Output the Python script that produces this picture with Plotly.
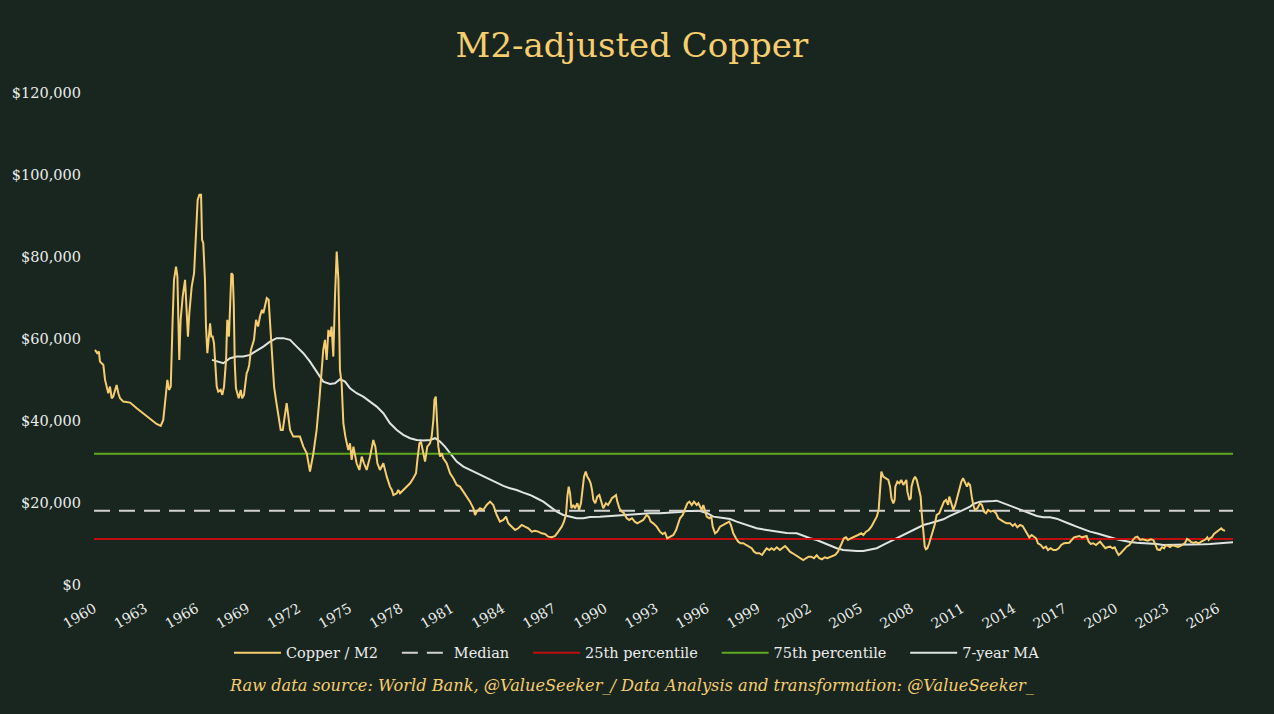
import plotly.graph_objects as go

# ---------------- data ----------------
copper_year = [
    1960.06, 1960.19, 1960.29, 1960.35, 1960.45, 1960.55, 1960.65, 1960.75, 1960.84, 1960.94,
    1961.04, 1961.13, 1961.33, 1961.43, 1961.53, 1961.72, 1962.12, 1962.51, 1962.90, 1963.29,
    1963.68, 1963.92, 1964.07, 1964.23, 1964.31, 1964.41, 1964.51, 1964.62, 1964.70, 1964.82,
    1964.90, 1964.96, 1965.01, 1965.09, 1965.21, 1965.35, 1965.45, 1965.52, 1965.60, 1965.74,
    1965.88, 1965.95, 1966.03, 1966.09, 1966.19, 1966.29, 1966.35, 1966.42, 1966.52, 1966.58,
    1966.66, 1966.72, 1966.82, 1966.89, 1966.97, 1967.05, 1967.13, 1967.21, 1967.30, 1967.44,
    1967.54, 1967.64, 1967.76, 1967.83, 1967.93, 1967.99, 1968.07, 1968.15, 1968.21, 1968.27,
    1968.34, 1968.42, 1968.50, 1968.62, 1968.70, 1968.81, 1968.89, 1968.97, 1969.05, 1969.12,
    1969.22, 1969.32, 1969.40, 1969.52, 1969.64, 1969.75, 1969.87, 1969.95, 1970.03, 1970.15,
    1970.26, 1970.34, 1970.42, 1970.50, 1970.58, 1970.69, 1970.77, 1970.87, 1970.97, 1971.09,
    1971.32, 1971.52, 1971.71, 1972.10, 1972.30, 1972.50, 1972.69, 1972.89, 1973.08, 1973.24,
    1973.38, 1973.47, 1973.57, 1973.67, 1973.77, 1973.87, 1973.96, 1974.06, 1974.16, 1974.26,
    1974.36, 1974.45, 1974.55, 1974.65, 1974.77, 1974.94, 1975.04, 1975.14, 1975.24, 1975.43,
    1975.59, 1975.73, 1975.86, 1976.02, 1976.22, 1976.41, 1976.53, 1976.65, 1976.80, 1977.00,
    1977.20, 1977.39, 1977.50, 1977.59, 1977.79, 1977.88, 1977.98, 1978.17, 1978.37, 1978.57,
    1978.76, 1978.92, 1979.00, 1979.12, 1979.21, 1979.31, 1979.45, 1979.58, 1979.74, 1979.84,
    1979.94, 1980.00, 1980.08, 1980.15, 1980.23, 1980.33, 1980.43, 1980.52, 1980.72, 1980.92,
    1981.11, 1981.31, 1981.50, 1981.70, 1981.90, 1982.09, 1982.29, 1982.39, 1982.49, 1982.68,
    1982.87, 1983.07, 1983.27, 1983.46, 1983.66, 1983.85, 1984.05, 1984.21, 1984.34, 1984.54,
    1984.74, 1984.93, 1985.13, 1985.32, 1985.52, 1985.72, 1985.91, 1986.10, 1986.30, 1986.50,
    1986.69, 1986.89, 1987.09, 1987.28, 1987.48, 1987.61, 1987.73, 1987.81, 1987.89, 1987.97,
    1988.05, 1988.16, 1988.26, 1988.40, 1988.50, 1988.61, 1988.71, 1988.79, 1988.89, 1988.98,
    1989.10, 1989.18, 1989.26, 1989.34, 1989.45, 1989.57, 1989.69, 1989.81, 1989.92, 1990.08,
    1990.20, 1990.32, 1990.43, 1990.55, 1990.67, 1990.75, 1990.87, 1991.01, 1991.14, 1991.30,
    1991.45, 1991.61, 1991.77, 1991.92, 1992.08, 1992.27, 1992.47, 1992.59, 1992.71, 1992.86,
    1993.06, 1993.25, 1993.41, 1993.55, 1993.68, 1993.84, 1994.04, 1994.20, 1994.33, 1994.43,
    1994.59, 1994.72, 1994.86, 1994.98, 1995.12, 1995.25, 1995.41, 1995.51, 1995.61, 1995.71,
    1995.80, 1995.90, 1996.00, 1996.15, 1996.27, 1996.35, 1996.49, 1996.62, 1996.78, 1996.97,
    1997.17, 1997.32, 1997.42, 1997.56, 1997.72, 1997.85, 1997.99, 1998.15, 1998.31, 1998.46,
    1998.64, 1998.78, 1998.93, 1999.09, 1999.25, 1999.38, 1999.52, 1999.68, 1999.81, 1999.95,
    2000.11, 2000.30, 2000.46, 2000.60, 2000.73, 2000.89, 2001.05, 2001.21, 2001.36, 2001.52,
    2001.67, 2001.83, 2001.99, 2002.14, 2002.30, 2002.46, 2002.61, 2002.77, 2002.93, 2003.08,
    2003.24, 2003.40, 2003.55, 2003.71, 2003.83, 2003.95, 2004.06, 2004.18, 2004.30, 2004.46,
    2004.61, 2004.73, 2004.89, 2005.08, 2005.20, 2005.36, 2005.52, 2005.67, 2005.83, 2005.99,
    2006.10, 2006.18, 2006.26, 2006.37, 2006.53, 2006.67, 2006.77, 2006.85, 2006.96, 2007.04,
    2007.08, 2007.20, 2007.32, 2007.43, 2007.55, 2007.65, 2007.73, 2007.79, 2007.91, 2007.99,
    2008.03, 2008.14, 2008.24, 2008.34, 2008.45, 2008.57, 2008.63, 2008.73, 2008.81, 2008.88,
    2008.96, 2009.07, 2009.19, 2009.31, 2009.39, 2009.51, 2009.66, 2009.82, 2009.94, 2010.06,
    2010.18, 2010.25, 2010.37, 2010.49, 2010.60, 2010.72, 2010.84, 2010.96, 2011.06, 2011.18,
    2011.29, 2011.37, 2011.47, 2011.57, 2011.66, 2011.76, 2011.90, 2012.06, 2012.17, 2012.29,
    2012.41, 2012.53, 2012.68, 2012.84, 2013.00, 2013.13, 2013.27, 2013.43, 2013.62, 2013.82,
    2013.98, 2014.11, 2014.25, 2014.41, 2014.56, 2014.70, 2014.84, 2014.95, 2015.09, 2015.23,
    2015.35, 2015.46, 2015.62, 2015.78, 2015.93, 2016.05, 2016.21, 2016.36, 2016.52, 2016.68,
    2016.83, 2016.99, 2017.14, 2017.30, 2017.44, 2017.58, 2017.73, 2017.89, 2018.05, 2018.21,
    2018.32, 2018.44, 2018.56, 2018.71, 2018.87, 2018.99, 2019.11, 2019.26, 2019.42, 2019.54,
    2019.70, 2019.85, 2019.97, 2020.09, 2020.20, 2020.32, 2020.44, 2020.56, 2020.67, 2020.83,
    2020.95, 2021.07, 2021.18, 2021.30, 2021.46, 2021.61, 2021.77, 2021.92, 2022.08, 2022.24,
    2022.35, 2022.47, 2022.63, 2022.75, 2022.87, 2022.98, 2023.10, 2023.22, 2023.38, 2023.53,
    2023.69, 2023.84, 2023.98, 2024.10, 2024.22, 2024.33, 2024.45, 2024.59, 2024.73, 2024.90,
    2025.06, 2025.22, 2025.32, 2025.41, 2025.49, 2025.57, 2025.69, 2025.80, 2025.96, 2026.12,
    2026.23, 2026.33, 2026.45,
]
copper_m2 = [
    57340, 56530, 56930, 54490, 54090, 53680, 50020, 48000, 46770, 48390,
    45550, 45950, 48800, 46770, 45550, 44730, 44490, 43110, 41890, 40670,
    39280, 38800, 40260, 46770, 50020, 47580, 48390, 64660, 74420, 77670,
    75230, 63850, 54900, 64660, 70350, 74420, 67910, 60590, 66290, 72790,
    76050, 82550, 89060, 93940, 95160, 95160, 84180, 83370, 74420, 63030,
    56530, 59780, 63850, 60590, 60590, 58970, 53270, 48390, 47170, 47580,
    46360, 48390, 54900, 64660, 60590, 67910, 76050, 75640, 68730, 54090,
    48000, 46770, 45550, 47580, 45550, 46360, 49210, 51650, 52460, 53680,
    57340, 58970, 59780, 64660, 63030, 65470, 67100, 66290, 67910, 69950,
    69550, 63850, 58150, 53270, 48390, 45140, 42700, 40260, 37820, 37820,
    44340, 37820, 36190, 36190, 33750, 32140, 27650, 32140, 37820, 45140,
    52460, 57340, 59780, 54900, 62220, 60590, 63030, 55710, 70350, 81340,
    74420, 52460, 49210, 39450, 36190, 32940, 34570, 30500, 33750, 29690,
    28060, 31310, 29690, 28060, 31310, 35380, 33750, 29690, 28060, 29690,
    26430, 23990, 23180, 21960, 22370, 23180, 22370, 23180, 23990, 24810,
    26030, 27250, 30500, 34570, 34970, 32940, 30090, 33750, 34570, 36190,
    40260, 45140, 45950, 40260, 33750, 31310, 32140, 30910, 29690, 27250,
    26030, 24400, 23990, 22770, 21550, 20330, 18720, 17080, 17890, 18720,
    18300, 19520, 20330, 19520, 17080, 15450, 15860, 16670, 15050, 14230,
    13420, 13830, 14640, 14230, 13830, 13010, 13250, 13010, 12610, 12450,
    11790, 11630, 11960, 13010, 14230, 15450, 17080, 21550, 23990, 22370,
    18720, 19520, 18720, 19930, 18300, 19930, 23990, 26430, 27650, 26430,
    25620, 24810, 23180, 20740, 19930, 21550, 21960, 20330, 18720, 19930,
    19520, 20330, 21160, 21550, 21960, 20330, 18720, 17890, 17500, 16280,
    15860, 16280, 15450, 15050, 15450, 15860, 17080, 16670, 15450, 15050,
    14230, 13010, 12450, 12760, 11400, 11710, 12200, 13420, 15050, 16280,
    17080, 18300, 19930, 20330, 19520, 20330, 19520, 19930, 19110, 18300,
    19520, 17890, 16670, 16280, 16670, 14230, 12610, 13010, 14230, 14640,
    15050, 15450, 14640, 12610, 11400, 10570, 10180, 10180, 9760, 9350,
    8960, 8130, 7740, 7740, 7320, 8130, 8960, 8540, 8960, 8540,
    9200, 8540, 8960, 9520, 8960, 8130, 7740, 7320, 6910, 6520,
    6100, 6520, 6910, 6910, 6520, 7250, 6520, 6270, 6760, 6520,
    6760, 6910, 7320, 8130, 9270, 10490, 11400, 11630, 10980, 11400,
    11630, 11790, 12200, 12610, 12200, 13010, 13420, 14230, 15450, 16670,
    18300, 22370, 27650, 26430, 26030, 25620, 23990, 21160, 19930, 20740,
    23990, 25210, 24810, 25620, 24400, 25210, 25620, 22770, 20740, 21160,
    23990, 25620, 26430, 25620, 23600, 21550, 17500, 12610, 9350, 8710,
    8960, 10180, 11790, 13010, 14640, 17080, 17500, 19110, 20330, 20740,
    19520, 21550, 19930, 18300, 19520, 21550, 23600, 25210, 26030, 24810,
    23990, 24810, 24400, 21550, 19520, 18300, 18720, 19930, 19520, 17890,
    17500, 18300, 17890, 18130, 17500, 16280, 15860, 15450, 15050, 15050,
    14400, 14890, 14080, 14640, 14400, 13420, 12200, 11630, 12200, 11790,
    11400, 10180, 9760, 8960, 9350, 8540, 8960, 8540, 8540, 8960,
    9760, 10180, 10180, 10320, 10980, 11630, 11790, 11960, 11630, 11790,
    11960, 10570, 10010, 10180, 9760, 10180, 10570, 9760, 8960, 9200,
    9350, 8960, 9200, 8130, 7320, 7740, 8370, 8960, 9350, 9760,
    10570, 11150, 11630, 11790, 10980, 11150, 10980, 10810, 11150, 10980,
    10010, 8710, 8540, 9270, 8960, 9760, 9520, 9270, 9690, 9520,
    9270, 9520, 10010, 10250, 11230, 10980, 10490, 10250, 10490, 10180,
    10570, 10980, 11150, 11630, 10980, 11400, 11710, 12450, 13010, 13420,
    13830, 13420, 13180,
]

ma_year = [
    1966.93, 1967.21, 1967.60, 1967.99, 1968.38, 1968.77, 1969.17, 1969.56, 1969.95, 1970.34,
    1970.73, 1971.12, 1971.52, 1971.91, 1972.30, 1972.69, 1973.08, 1973.47, 1973.87, 1974.16,
    1974.45, 1974.75, 1975.04, 1975.43, 1975.82, 1976.22, 1976.61, 1977.00, 1977.39, 1977.79,
    1978.17, 1978.57, 1978.96, 1979.35, 1979.74, 1980.04, 1980.33, 1980.62, 1980.92, 1981.31,
    1981.70, 1982.09, 1982.49, 1982.87, 1983.27, 1983.66, 1984.05, 1984.44, 1984.83, 1985.22,
    1985.62, 1986.01, 1986.40, 1986.79, 1987.19, 1987.57, 1987.97, 1988.36, 1988.75, 1989.14,
    1989.73, 1990.32, 1990.90, 1991.49, 1992.08, 1992.67, 1993.25, 1993.84, 1994.43, 1994.84,
    1995.61, 1996.00, 1996.39, 1996.97, 1997.37, 1997.76, 1998.35, 1998.93, 1999.52, 2000.11,
    2000.70, 2001.29, 2001.67, 2002.07, 2002.46, 2002.85, 2003.24, 2003.64, 2004.02, 2004.42,
    2004.81, 2005.20, 2005.59, 2005.99, 2006.37, 2006.77, 2007.16, 2007.55, 2007.94, 2008.34,
    2008.73, 2009.12, 2009.51, 2009.90, 2010.29, 2010.69, 2011.08, 2011.47, 2011.66, 2012.06,
    2012.45, 2012.84, 2013.04, 2013.43, 2013.82, 2014.21, 2014.60, 2014.99, 2015.39, 2015.78,
    2016.17, 2016.56, 2016.95, 2017.34, 2017.73, 2018.13, 2018.52, 2018.91, 2019.30, 2019.70,
    2020.09, 2020.48, 2020.87, 2021.26, 2021.65, 2022.04, 2022.43, 2022.83, 2023.22, 2023.61,
    2024.00, 2024.40, 2024.79, 2025.18, 2025.57, 2025.96, 2026.35, 2026.74, 2026.92,
]
ma_value = [
    54900, 54490, 54090, 55320, 55710, 55710, 56120, 57170, 58150, 59370,
    60210, 60210, 59780, 58150, 56530, 54490, 52050, 49610, 49050, 49210,
    50200, 49610, 48000, 46770, 45950, 44730, 43510, 41890, 39450, 37820,
    36610, 35800, 35380, 35220, 35380, 35800, 34970, 33750, 32140, 30090,
    28870, 28060, 27250, 26430, 25620, 24810, 24160, 23600, 23180, 22530,
    21960, 21160, 20330, 19110, 17890, 17080, 16670, 16280, 16280, 16590,
    16670, 16840, 17080, 17080, 17330, 17500, 17500, 17640, 17820, 18060,
    18060, 17570, 16670, 16350, 16110, 15450, 14640, 13830, 13420, 13010,
    12690, 12610, 11960, 11400, 10980, 10320, 9590, 8960, 8540, 8370,
    8300, 8300, 8540, 8960, 9760, 10570, 11400, 12200, 13010, 13830,
    14640, 15050, 15450, 16030, 16840, 17500, 18300, 19110, 19770, 20330,
    20330, 20500, 20570, 19930, 19280, 18720, 18060, 17500, 16840, 16520,
    16520, 16180, 15450, 14890, 14230, 13590, 13010, 12610, 12200, 11630,
    11150, 10740, 10490, 10320, 10250, 10180, 10010, 9760, 9760, 9760,
    9760, 9930, 9930, 9930, 10010, 10080, 10250, 10320, 10420,
]

median_value = 18100
p25_value = 11200
p75_value = 32000

x_start = 1960
x_end = ma_year[-1]
tick_years = list(range(1960, 2027, 3))
y_ticks = [0, 20000, 40000, 60000, 80000, 100000, 120000]
y_ticktext = ["$" + f"{v:,}" for v in y_ticks]

# ---------------- style ----------------
BG = "#18261f"
GOLD = "#f6cd6f"
TXT = "#ececec"
SERIF = "DejaVu Serif"
PAD = "\u00a0" * 3   # extra gap between legend entries

fig = go.Figure()

fig.add_trace(go.Scatter(
    x=ma_year, y=ma_value, mode="lines", name="7-year MA",
    line=dict(color="#dfe3e2", width=2), legendrank=5))
fig.add_trace(go.Scatter(
    x=[x_start, x_end], y=[p75_value, p75_value], mode="lines", name="75th percentile" + PAD,
    line=dict(color="#5fa81f", width=2), legendrank=4))
fig.add_trace(go.Scatter(
    x=[x_start, x_end], y=[p25_value, p25_value], mode="lines", name="25th percentile" + PAD,
    line=dict(color="#c00d0d", width=2), legendrank=3))
fig.add_trace(go.Scatter(
    x=[x_start, x_end], y=[median_value, median_value], mode="lines", name="Median" + PAD,
    line=dict(color="#d2d2d2", width=2, dash="16px,9px"), legendrank=2))
fig.add_trace(go.Scatter(
    x=copper_year, y=copper_m2, mode="lines", name="Copper / M2" + PAD,
    line=dict(color=GOLD, width=2), legendrank=1))

fig.update_layout(
    width=1274, height=714,
    paper_bgcolor=BG, plot_bgcolor=BG,
    margin=dict(l=94, r=41, t=93, b=129),
    font=dict(family=SERIF, color=TXT, size=14),
    title=dict(text="M2-adjusted Copper", x=0.496, xanchor="center", y=0.937, yanchor="middle",
               font=dict(family=SERIF, size=34, color=GOLD)),
    showlegend=True,
    legend=dict(orientation="h", x=0.4767, xanchor="center", y=-0.138, yanchor="middle",
                font=dict(family=SERIF, size=14.5, color=TXT), bgcolor="rgba(0,0,0,0)",
                itemwidth=47, traceorder="normal"),
    xaxis=dict(range=[x_start, x_end], tickmode="array", tickvals=tick_years,
               ticktext=[str(t) for t in tick_years], tickangle=-30,
               showgrid=False, zeroline=False, showline=False, ticks="",
               tickfont=dict(family=SERIF, size=14, color=TXT), ticklabelstandoff=12),
    yaxis=dict(range=[0, 120000], tickmode="array", tickvals=y_ticks, ticktext=y_ticktext,
               showgrid=False, zeroline=False, showline=False, ticks="",
               tickfont=dict(family=SERIF, size=14.5, color=TXT), ticklabelstandoff=12),
    annotations=[dict(
        text="<i>Raw data source: World Bank, @ValueSeeker_/ Data Analysis and transformation: @ValueSeeker_</i>",
        xref="paper", yref="paper", x=0.4724, y=-0.205, xanchor="center", yanchor="middle",
        showarrow=False, font=dict(family=SERIF, size=16.2, color=GOLD))],
)

fig.write_html("out.html", include_plotlyjs=True, full_html=True,
               config={"displayModeBar": False},
               post_script="document.body.style.margin='0';")
